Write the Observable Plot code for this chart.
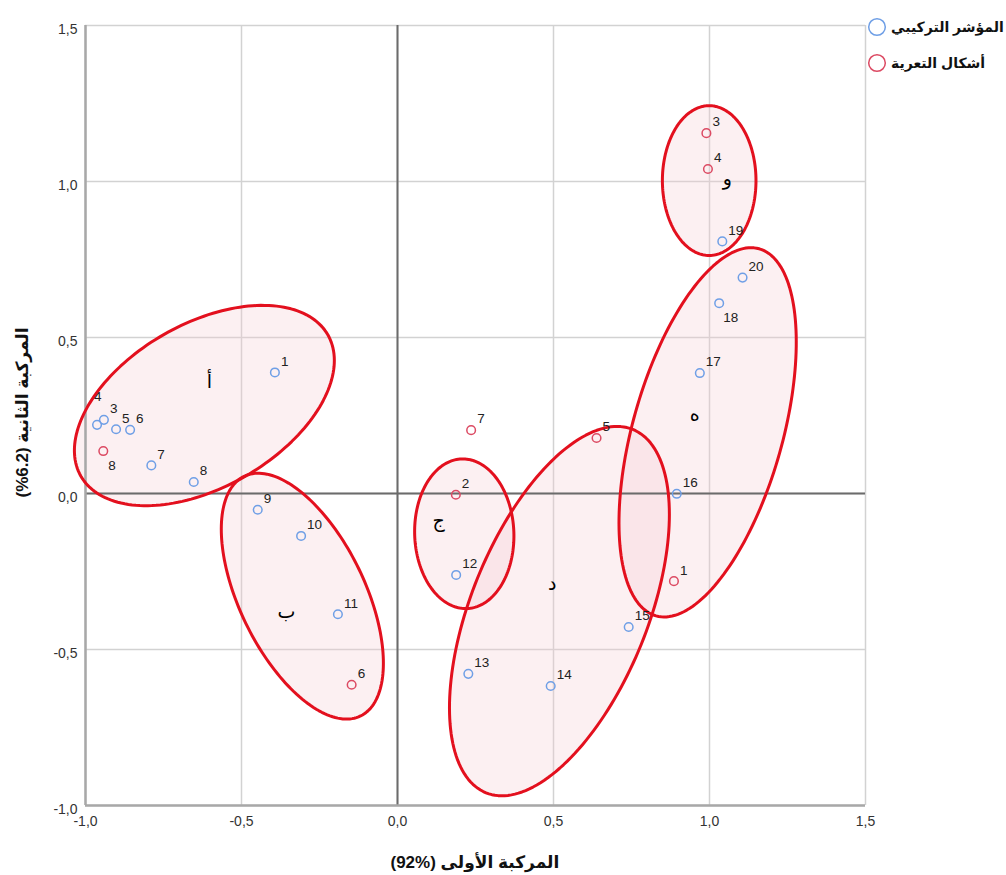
<!DOCTYPE html>
<html>
<head>
<meta charset="utf-8">
<script src="https://cdn.jsdelivr.net/npm/d3@7"></script>
<script src="https://cdn.jsdelivr.net/npm/@observablehq/plot@0.6"></script>
<style>
  body { margin: 0; background: #fff; font-family: "Liberation Sans", "DejaVu Sans", Arial, sans-serif; }
  #wrap { position: relative; width: 1006px; height: 875px; }
  .leg { position: absolute; left: 867px; display: flex; align-items: center; gap: 4px; font-weight: bold; font-size: 14px; color: #111; white-space: nowrap; }
  .leg svg { display: block; }
</style>
</head>
<body>
<div id="wrap"></div>
<script>
// ---- data ----
const seriesNames = ["المؤشر التركيبي", "أشكال التعرية"];
const seriesColors = ["#6f9fe6", "#dc4a63"];

const compositeLabels = [1, 3, 4, 5, 6, 7, 8, 9, 10, 11, 12, 13, 14, 15, 16, 17, 18, 19, 20];
const compositeX = [-0.393, -0.941, -0.963, -0.902, -0.857, -0.789, -0.653, -0.448, -0.309, -0.191, 0.188, 0.227, 0.491, 0.741, 0.895, 0.969, 1.031, 1.041, 1.106];
const compositeY = [0.388, 0.236, 0.220, 0.206, 0.204, 0.090, 0.037, -0.052, -0.136, -0.387, -0.261, -0.578, -0.617, -0.428, -0.001, 0.386, 0.610, 0.808, 0.692];

const erosionLabels = [1, 2, 3, 4, 5, 6, 7, 8];
const erosionX = [0.886, 0.187, 0.990, 0.995, 0.638, -0.147, 0.236, -0.943];
const erosionY = [-0.281, -0.004, 1.155, 1.040, 0.178, -0.613, 0.203, 0.136];

const groupNames = ["أ", "ب", "ج", "د", "ه", "و"];
const groupCX = [-0.619, -0.305, 0.214, 0.519, 0.994, 0.999];
const groupCY = [0.282, -0.329, -0.129, -0.377, 0.196, 1.003];
const groupSemiMajor = [0.456, 0.427, 0.240, 0.628, 0.611, 0.240];
const groupSemiMinor = [0.262, 0.201, 0.159, 0.283, 0.240, 0.150];
const groupAngle = [29.8, -64.1, 92, 68.0, 74.3, 90];
const groupLabelX = [-0.603, -0.356, 0.132, 0.496, 0.953, 1.057];
const groupLabelY = [0.359, -0.380, -0.087, -0.289, 0.253, 1.009];

const tickValues = [-1, -0.5, 0, 0.5, 1, 1.5];
const xTitle = "(92%) المركبة الأولى";
const yTitle = "(%6.2) المركبة الثانية";

// ---- build tables ----
const composite = compositeLabels.map((l, i) => ({label: l, x: compositeX[i], y: compositeY[i]}));
const erosion = erosionLabels.map((l, i) => ({label: l, x: erosionX[i], y: erosionY[i]}));
const groups = groupNames.map((g, i) => ({g, x: groupLabelX[i], y: groupLabelY[i]}));
const ellipsePts = groupNames.flatMap((g, i) => d3.range(0, 361, 2).map(deg => {
  const t = deg * Math.PI / 180, th = groupAngle[i] * Math.PI / 180;
  const a = groupSemiMajor[i], b = groupSemiMinor[i];
  return {
    g,
    x: groupCX[i] + a * Math.cos(t) * Math.cos(th) - b * Math.sin(t) * Math.sin(th),
    y: groupCY[i] + a * Math.cos(t) * Math.sin(th) + b * Math.sin(t) * Math.cos(th)
  };
}));

const fmt = d => d.toFixed(1).replace(".", ",");
const font = "'Liberation Sans', 'DejaVu Sans', Arial, sans-serif";

const isAboveLeft = d => d.label === 4;
const isBelowComposite = d => d.label === 18;
const isBelowErosion = d => d.label === 8;

const chart = Plot.plot({
  width: 1006,
  height: 875,
  marginLeft: 85,
  marginRight: 141,
  marginTop: 25,
  marginBottom: 70,
  x: {domain: [-1, 1.5], axis: null},
  y: {domain: [-1, 1.5], axis: null},
  style: {fontFamily: font, fontSize: "13px", color: "#333", background: "#fff", overflow: "visible"},
  marks: [
    Plot.gridX(tickValues, {stroke: "#d2d2d2", strokeOpacity: 1, strokeWidth: 1.5}),
    Plot.gridY(tickValues, {stroke: "#d2d2d2", strokeOpacity: 1, strokeWidth: 1.5}),
    Plot.line(ellipsePts, {x: "x", y: "y", z: "g", fill: "#f5cdd4", fillOpacity: 0.3, stroke: "none"}),
    Plot.ruleX([0], {stroke: "#6b6b6b", strokeWidth: 2}),
    Plot.ruleY([0], {stroke: "#6b6b6b", strokeWidth: 2}),
    Plot.ruleX([-1], {stroke: "#a8a8a8", strokeWidth: 2.5}),
    Plot.ruleY([-1], {stroke: "#a8a8a8", strokeWidth: 2.5}),
    Plot.line(ellipsePts, {x: "x", y: "y", z: "g", stroke: "#e3101e", strokeWidth: 3, fill: "none"}),
    // tick labels
    Plot.text(tickValues, {x: d => d, frameAnchor: "bottom", dy: 20, text: fmt, fill: "#333", fontSize: 14}),
    Plot.text(tickValues, {y: d => d, frameAnchor: "left", dx: -8, dy: 4, textAnchor: "end", text: fmt, fill: "#333", fontSize: 14}),
    Plot.dot(composite, {x: "x", y: "y", r: 4.3, stroke: seriesColors[0], strokeWidth: 1.5, fill: "none"}),
    Plot.dot(erosion, {x: "x", y: "y", r: 4.3, stroke: seriesColors[1], strokeWidth: 1.5, fill: "none"}),
    Plot.text(composite.filter(d => !isAboveLeft(d) && !isBelowComposite(d)), {x: "x", y: "y", text: "label", dx: 6, dy: -11, textAnchor: "start", fill: "#222", fontSize: 13.5}),
    Plot.text(composite.filter(isAboveLeft), {x: "x", y: "y", text: "label", dx: -3, dy: -28, textAnchor: "start", fill: "#222", fontSize: 13.5}),
    Plot.text(composite.filter(isBelowComposite), {x: "x", y: "y", text: "label", dx: 4, dy: 14, textAnchor: "start", fill: "#222", fontSize: 13.5}),
    Plot.text(erosion.filter(d => !isBelowErosion(d)), {x: "x", y: "y", text: "label", dx: 6, dy: -11, textAnchor: "start", fill: "#222", fontSize: 13.5}),
    Plot.text(erosion.filter(isBelowErosion), {x: "x", y: "y", text: "label", dx: 5, dy: 15, textAnchor: "start", fill: "#222", fontSize: 13.5}),
    Plot.text(groups, {x: "x", y: "y", text: "g", fill: "#000", fontSize: 19, fontFamily: "'DejaVu Sans', sans-serif"}),
    Plot.text([xTitle], {frameAnchor: "bottom", dx: -85, dy: 62, textAnchor: "start", fontWeight: "bold", fontSize: 17, fill: "#111"}),
    Plot.text([yTitle], {frameAnchor: "left", dx: -63, dy: 82, rotate: -90, textAnchor: "start", fontWeight: "bold", fontSize: 17, fill: "#111"})
  ]
});

const wrap = document.getElementById("wrap");
wrap.appendChild(chart);

const legendTops = [17, 53];
seriesNames.forEach((name, i) => {
  const div = document.createElement("div");
  div.className = "leg";
  div.style.top = legendTops[i] + "px";
  div.innerHTML = `<svg width="20" height="20"><circle cx="10" cy="10" r="8.3" fill="none" stroke="${seriesColors[i]}" stroke-width="1.5"></circle></svg><span>${name}</span>`;
  wrap.appendChild(div);
});
</script>
</body>
</html>
